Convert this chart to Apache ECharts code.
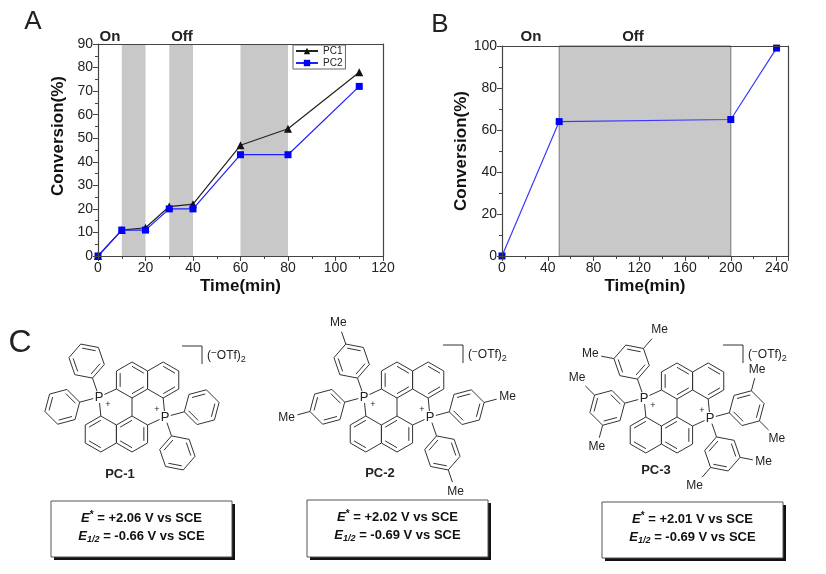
<!DOCTYPE html>
<html>
<head>
<meta charset="utf-8">
<script src="https://cdn.jsdelivr.net/npm/echarts@6/dist/echarts.min.js"></script>
<style>
html,body{margin:0;padding:0;background:#fff;}
#main{width:826px;height:574px;}
</style>
</head>
<body>
<div id="main"></div>
<script>
/* 数据 A：开关光实验 */
var timeA = [0, 10, 20, 30, 40, 60, 80, 110];
var pc1 = [0, 11, 12, 21, 22, 47, 54, 78];
var pc2 = [0, 11, 11, 20, 20, 43, 43, 72];
var bandsA = [[10, 20], [30, 40], [60, 80]];
/* 数据 B */
var timeB = [0, 50, 200, 240];
var convB = [0, 64, 65, 99];
var bandsB = [[50, 200]];
/* 面板 C 文本 */
var pcNames = ['PC-1', 'PC-2', 'PC-3'];
var eStar = ['+2.06', '+2.02', '+2.01'];
var eHalf = ['-0.66', '-0.69', '-0.69'];

var FONT = '"Liberation Sans", Arial, sans-serif';
var INK = '#333';
var BOND = 18;
var H = BOND * Math.cos(Math.PI / 6);

function pairs(xs, ys) {
	return xs.map(function (x, i) { return [x, ys[i]]; });
}
function areas(list) {
	return list.map(function (b) { return [{xAxis: b[0]}, {xAxis: b[1]}]; });
}

/* ---- 结构式绘制 ---- */
function pt(cx, cy, r, deg) {
	var a = deg * Math.PI / 180;
	return [cx + r * Math.cos(a), cy + r * Math.sin(a)];
}
function seg(out, p, q, w) {
	out.push({type: 'line', silent: true,
		shape: {x1: p[0], y1: p[1], x2: q[0], y2: q[1]},
		style: {stroke: INK, lineWidth: w || 1}});
}
function trimTo(p, q, d) {
	var dx = q[0] - p[0], dy = q[1] - p[1], l = Math.sqrt(dx * dx + dy * dy);
	return [p[0] + dx / l * d, p[1] + dy / l * d];
}
function hexagon(out, cx, cy, a0, dbl) {
	var v = [];
	for (var k = 0; k < 6; k++) v.push(pt(cx, cy, BOND, a0 + 60 * k));
	out.push({type: 'polygon', silent: true, shape: {points: v},
		style: {fill: 'none', stroke: INK, lineWidth: 1}});
	dbl.forEach(function (k) {
		var p = v[k], q = v[(k + 1) % 6], s = 0.76;
		seg(out, [cx + (p[0] - cx) * s, cy + (p[1] - cy) * s],
			[cx + (q[0] - cx) * s, cy + (q[1] - cy) * s]);
	});
	return v;
}
function label(out, x, y, text, size, bold) {
	out.push({type: 'text', silent: true, x: x, y: y,
		style: {text: text, fill: '#222', font: (bold ? 'bold ' : '') + size + 'px ' + FONT,
			align: 'center', verticalAlign: 'middle'}});
}
function methyl(out, c, v) {
	var dx = (v[0] - c[0]) / BOND, dy = (v[1] - c[1]) / BOND;
	var e = [v[0] + dx * 13, v[1] + dy * 13];
	seg(out, v, e);
	var o = 9 * Math.abs(dx) + 6 * Math.abs(dy) + 1;
	label(out, e[0] + dx * o, e[1] + dy * o, 'Me', 12);
}
function aryl(out, P, ang, sub) {
	var c = pt(P[0], P[1], 38, ang);
	var v = hexagon(out, c[0], c[1], ang + 180, [1, 3, 5]);
	seg(out, trimTo(P, v[0], 6), v[0]);
	if (sub === 'para') methyl(out, c, v[3]);
	if (sub === 'meta') { methyl(out, c, v[2]); methyl(out, c, v[4]); }
}
function molecule(out, cx, cy, sub) {
	var A = hexagon(out, cx, cy - 27, -90, [0, 2, 4]);
	var B = hexagon(out, cx + 2 * H, cy - 27, -90, [0, 2]);
	var C = hexagon(out, cx - 2 * H, cy + 27, -90, [3, 5]);
	var D = hexagon(out, cx, cy + 27, -90, [3, 5, 1]);
	seg(out, A[3], D[0]);
	var PL = [cx - 33, cy - 10], PR = [cx + 33, cy + 10];
	seg(out, trimTo(PL, A[4], 6), A[4]);
	seg(out, trimTo(PL, C[0], 6), C[0]);
	seg(out, trimTo(PR, B[3], 6), B[3]);
	seg(out, trimTo(PR, D[1], 6), D[1]);
	aryl(out, PL, -109, sub);
	aryl(out, PL, 165, sub);
	aryl(out, PR, 71, sub);
	aryl(out, PR, -15, sub);
	label(out, PL[0], PL[1], 'P', 13);
	label(out, PR[0], PR[1], 'P', 13);
	label(out, PL[0] + 9, PL[1] + 8, '+', 9);
	label(out, PR[0] - 8, PR[1] - 7, '+', 9);
}
function counterIon(out, x, y) {
	seg(out, [x, y], [x + 20, y]);
	seg(out, [x + 20, y], [x + 20, y + 18]);
	out.push({type: 'text', silent: true, x: x + 25, y: y + 10,
		style: {text: '{n|(}{p|−}{n|OTf)}{b|2}', verticalAlign: 'middle', align: 'left',
			rich: {
				n: {fontSize: 12, fontFamily: FONT, fill: '#222', lineHeight: 16},
				p: {fontSize: 10, fontFamily: FONT, fill: '#222', lineHeight: 9, verticalAlign: 'top'},
				b: {fontSize: 9, fontFamily: FONT, fill: '#222', lineHeight: 8, verticalAlign: 'bottom'}
			}}});
}
function potBox(out, x1, y1, x2, y2, i) {
	out.push({type: 'rect', silent: true, shape: {x: x1 + 3, y: y1 + 3, width: x2 - x1, height: y2 - y1},
		style: {fill: '#111'}});
	out.push({type: 'rect', silent: true, shape: {x: x1, y: y1, width: x2 - x1, height: y2 - y1},
		style: {fill: '#fff', stroke: '#555', lineWidth: 1}});
	var rich = {
		e: {fontSize: 13, fontFamily: FONT, fontWeight: 'bold', fontStyle: 'italic', fill: '#111', lineHeight: 16},
		t: {fontSize: 13, fontFamily: FONT, fontWeight: 'bold', fill: '#111', lineHeight: 16},
		p: {fontSize: 10, fontFamily: FONT, fontWeight: 'bold', fill: '#111', lineHeight: 9, verticalAlign: 'top'},
		s: {fontSize: 9, fontFamily: FONT, fontWeight: 'bold', fontStyle: 'italic', fill: '#111', lineHeight: 9, verticalAlign: 'bottom'}
	};
	var mx = (x1 + x2) / 2;
	out.push({type: 'text', silent: true, x: mx, y: y1 + 17,
		style: {text: '{e|E}{p|*}{t| = ' + eStar[i] + ' V vs SCE}', align: 'center', verticalAlign: 'middle', rich: rich}});
	out.push({type: 'text', silent: true, x: mx, y: y1 + 35,
		style: {text: '{e|E}{s|1/2}{t| = ' + eHalf[i] + ' V vs SCE}', align: 'center', verticalAlign: 'middle', rich: rich}});
}

var g = [];
label(g, 33, 22, 'A', 26);
label(g, 440, 25, 'B', 26);
label(g, 20, 343, 'C', 32);
label(g, 110, 37, 'On', 15, true);
label(g, 182, 37, 'Off', 15, true);
label(g, 531, 37, 'On', 15, true);
label(g, 633, 37, 'Off', 15, true);

molecule(g, 132, 407, 'none');
molecule(g, 397, 407, 'para');
molecule(g, 677, 408, 'meta');
counterIon(g, 182, 346);
counterIon(g, 443, 345);
counterIon(g, 723, 345);
label(g, 120, 474, pcNames[0], 13, true);
label(g, 380, 473, pcNames[1], 13, true);
label(g, 656, 470, pcNames[2], 13, true);
potBox(g, 51, 501, 232, 557, 0);
potBox(g, 307, 500, 488, 557, 1);
potBox(g, 602, 502, 783, 558, 2);

/* ---- 坐标轴 ---- */
function valueAxis(grid, pos, min, max, step, name, gap, namePad) {
	var ax = {
		type: 'value', gridIndex: grid, position: pos, min: min, max: max, interval: step, z: 6,
		axisLine: {show: true, onZero: false, lineStyle: {color: '#444', width: 1.2}},
		splitLine: {show: false}
	};
	if (name) {
		ax.name = name;
		ax.nameLocation = 'middle';
		ax.nameGap = gap;
		ax.nameTextStyle = {fontFamily: FONT, fontSize: 17, fontWeight: 'bold', color: '#111',
			padding: namePad || 0};
		ax.axisTick = {show: true, length: 5, lineStyle: {color: '#444'}};
		ax.minorTick = {show: true, splitNumber: 2, length: 3, lineStyle: {color: '#444'}};
		ax.axisLabel = {fontFamily: FONT, fontSize: 14, color: '#222', margin: 5};
	} else {
		ax.axisTick = {show: false};
		ax.axisLabel = {show: false};
	}
	return ax;
}

var myChart = echarts.init(document.getElementById('main'));
var option = {
	animation: false,
	grid: [
		{left: 98, top: 44, width: 285, height: 212},
		{left: 502, top: 46, width: 286, height: 210}
	],
	xAxis: [
		valueAxis(0, 'bottom', 0, 120, 20, 'Time(min)', 22),
		valueAxis(0, 'top', 0, 120, 20),
		valueAxis(1, 'bottom', 0, 250, 40, 'Time(min)', 22),
		valueAxis(1, 'top', 0, 250, 40)
	],
	yAxis: [
		valueAxis(0, 'left', 0, 90, 10, 'Conversion(%)', 31, [0, 0, 0, 28]),
		valueAxis(0, 'right', 0, 90, 10),
		valueAxis(1, 'left', 0, 100, 20, 'Conversion(%)', 26),
		valueAxis(1, 'right', 0, 100, 20)
	],
	legend: {
		orient: 'vertical', left: 293, top: 45,
		padding: [1, 3, 1, 2], itemGap: 2, itemWidth: 22, itemHeight: 8,
		borderColor: '#666', borderWidth: 1,
		textStyle: {fontFamily: FONT, fontSize: 10, color: '#222'},
		data: ['PC1', 'PC2']
	},
	graphic: g,
	series: [
		{
			type: 'line', name: 'bandsA', xAxisIndex: 0, yAxisIndex: 0, data: [], z: 1, silent: true,
			markArea: {silent: true, itemStyle: {color: '#c8c8c8', opacity: 1}, data: areas(bandsA)}
		},
		{
			type: 'line', name: 'PC1', xAxisIndex: 0, yAxisIndex: 0, z: 3,
			data: pairs(timeA, pc1), symbol: 'triangle', symbolSize: 8,
			lineStyle: {color: '#222', width: 1.2}, itemStyle: {color: '#111'}
		},
		{
			type: 'line', name: 'PC2', xAxisIndex: 0, yAxisIndex: 0, z: 4,
			data: pairs(timeA, pc2), symbol: 'rect', symbolSize: 7,
			lineStyle: {color: '#1f1fff', width: 1.2}, itemStyle: {color: '#0000ff'}
		},
		{
			type: 'line', name: 'bandsB', xAxisIndex: 2, yAxisIndex: 2, data: [], z: 1, silent: true,
			markArea: {silent: true, itemStyle: {color: '#c8c8c8', opacity: 1, borderColor: '#777', borderWidth: 1}, data: areas(bandsB)}
		},
		{
			type: 'line', name: 'B', xAxisIndex: 2, yAxisIndex: 2, z: 3,
			data: pairs(timeB, convB), symbol: 'rect', symbolSize: 7,
			lineStyle: {color: '#3a3aff', width: 1.2}, itemStyle: {color: '#0000ee'}
		}
	]
};
option.xAxis[2].axisLabel.showMaxLabel = false;
myChart.setOption(option);
</script>
</body>
</html>
